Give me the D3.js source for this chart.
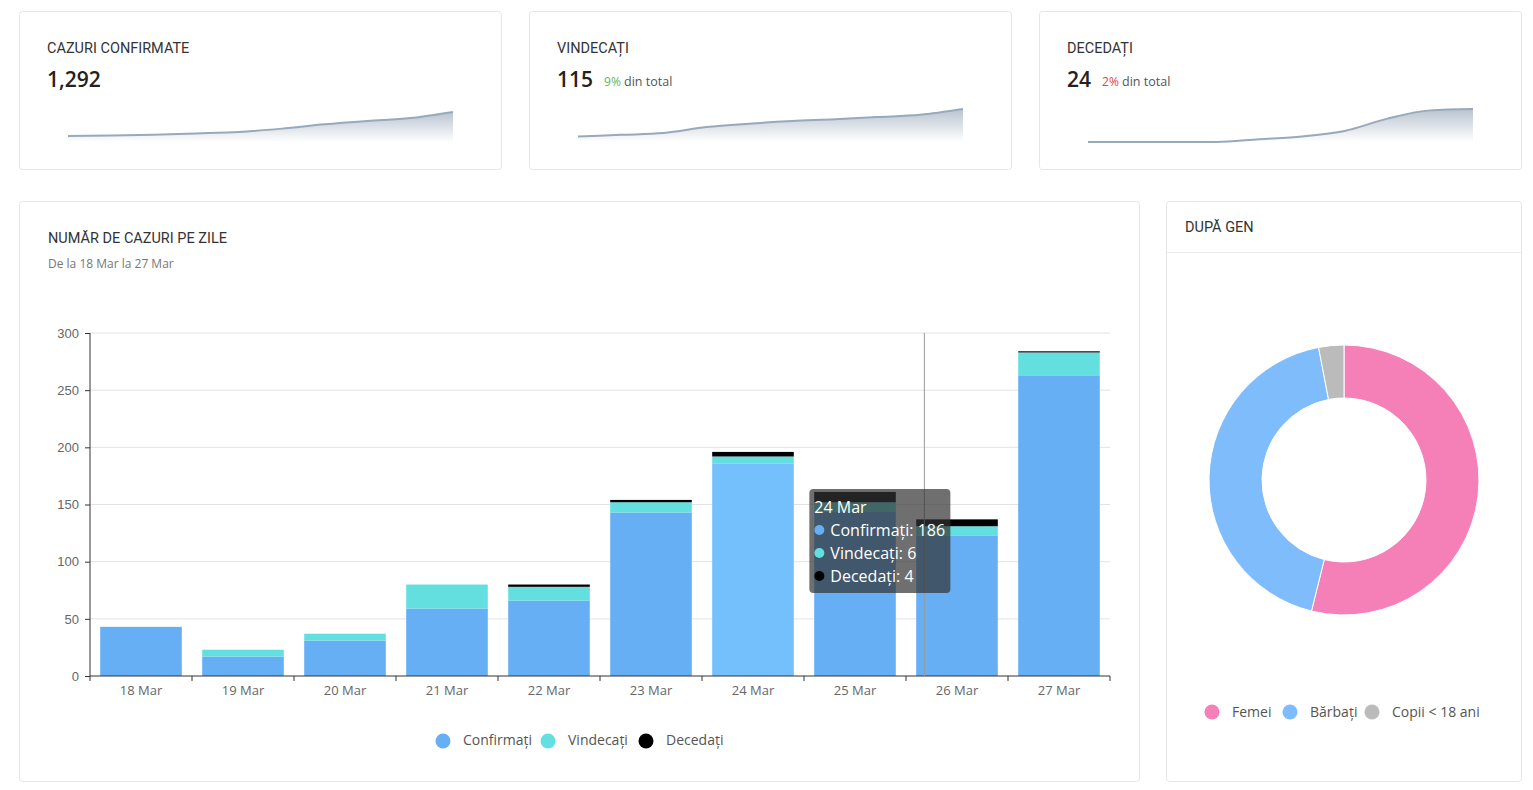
<!DOCTYPE html>
<html lang="ro">
<head>
    <meta charset="UTF-8">
    <title>COVID-19 Romania - Dashboard</title>
    <script src="https://d3js.org/d3.v7.min.js"></script>
    <style>
        body {
            margin: 0;
            background: #fff;
            font-family: "Open Sans", "Noto Sans", sans-serif;
        }
        .card {
            fill: #fff;
            stroke: #e6e6e6;
            stroke-width: 1px;
        }
        .heading {
            font-family: Roboto, "Noto Sans", sans-serif;
            font-size: 14.5px;
            fill: #333;
        }
        .axis text {
            font-size: 13px;
            fill: #666;
        }
        .axis path, .axis line {
            stroke: #333;
        }
        .grid line {
            stroke: #e3e3e3;
        }
        .legend text {
            font-size: 14px;
            fill: #555;
        }
        .tooltip text {
            font-size: 16px;
            fill: #fff;
        }
    </style>
</head>
<body>
    <svg id="dash" width="1533" height="790"></svg>
    <script>
        // date zilnice
        const days = ['18 Mar', '19 Mar', '20 Mar', '21 Mar', '22 Mar', '23 Mar', '24 Mar', '25 Mar', '26 Mar', '27 Mar'];
        const confirmati = [43, 17, 31, 59, 66, 143, 186, 144, 123, 263];
        const vindecati = [0, 6, 6, 21, 12, 9, 6, 8, 8, 20];
        const decedati = [0, 0, 0, 0, 2, 2, 4, 9, 6, 1];

        // totaluri cumulate pentru sparkline
        const totalConfirmati = [260, 277, 308, 367, 433, 576, 762, 906, 1029, 1292];
        const totalVindecati = [19, 25, 31, 52, 64, 73, 79, 87, 95, 115];
        const totalDecedati = [0, 0, 0, 0, 2, 4, 8, 17, 23, 24];

        const cardTitles = ['CAZURI CONFIRMATE', 'VINDECAȚI', 'DECEDAȚI'];
        const cardValues = [1292, 115, 24];
        const cardPercent = [null, '9%', '2%'];

        const seriesNames = ['Confirmați', 'Vindecați', 'Decedaţi'];
        const yTicks = [0, 50, 100, 150, 200, 250, 300];

        const genLabels = ['Femei', 'Bărbați', 'Copii < 18 ani'];
        const genValues = [696, 557, 39];

        const hoverDay = '24 Mar';

        const svg = d3.select('#dash');

        // ---- carduri sus ----
        const sparkSeries = [totalConfirmati, totalVindecati, totalDecedati];
        const sparkTop = [101, 98, 98];
        const pctColors = [null, '#5cb85c', '#e0443e'];
        const defs = svg.append('defs');
        const grad = defs.append('linearGradient')
            .attr('id', 'sparkFill')
            .attr('x1', 0).attr('y1', 0).attr('x2', 0).attr('y2', 1);
        grad.append('stop').attr('offset', '0%').attr('stop-color', '#b9c4d0').attr('stop-opacity', 1);
        grad.append('stop').attr('offset', '100%').attr('stop-color', '#ffffff').attr('stop-opacity', 1);

        cardTitles.forEach((title, i) => {
            const cx = 19 + i * 510;
            const g = svg.append('g').attr('transform', `translate(${cx},11)`);
            g.append('rect').attr('class', 'card')
                .attr('x', 0.5).attr('y', 0.5).attr('width', 482).attr('height', 158).attr('rx', 3);
            g.append('text').attr('class', 'heading')
                .attr('x', 28).attr('y', 42).text(title);
            const val = g.append('text')
                .attr('x', 28).attr('y', 76)
                .style('font-size', '21px').style('font-weight', 600).style('fill', '#222')
                .text(d3.format(',')(cardValues[i]));
            if (cardPercent[i]) {
                const w = val.node().getComputedTextLength();
                const t = g.append('text').attr('x', 28 + w + 11).attr('y', 75)
                    .style('font-size', '12px');
                t.append('tspan').style('fill', pctColors[i]).text(cardPercent[i]);
                t.append('tspan').style('fill', '#555').style('font-size', '12.5px').text(' din total');
            }

            const data = sparkSeries[i];
            const sx = d3.scaleLinear().domain([0, data.length - 1]).range([49, 434]);
            const sy = d3.scaleLinear().domain([0, d3.max(data)]).range([131, sparkTop[i]]);
            const area = d3.area()
                .x((d, k) => sx(k)).y0(131).y1(d => sy(d))
                .curve(d3.curveMonotoneX);
            const line = d3.line()
                .x((d, k) => sx(k)).y(d => sy(d))
                .curve(d3.curveMonotoneX);
            g.append('path').datum(data).attr('d', area).attr('fill', 'url(#sparkFill)');
            g.append('path').datum(data).attr('d', line)
                .attr('fill', 'none').attr('stroke', '#97a9bc').attr('stroke-width', 2);
        });

        // ---- grafic principal ----
        svg.append('rect').attr('class', 'card')
            .attr('x', 19.5).attr('y', 201.5).attr('width', 1120).attr('height', 580).attr('rx', 3);
        svg.append('text').attr('class', 'heading')
            .attr('x', 48).attr('y', 243).text('NUMĂR DE CAZURI PE ZILE');
        svg.append('text')
            .attr('x', 48).attr('y', 268)
            .style('font-size', '12px').style('fill', '#777')
            .text('De la 18 Mar la 27 Mar');

        const x = d3.scaleBand().domain(days).range([90, 1110]).paddingInner(0.2).paddingOuter(0.1);
        const xb = d3.scaleBand().domain(days).range([90, 1110]);
        const y = d3.scaleLinear().domain([0, 300]).range([676, 333]);

        svg.append('g').attr('class', 'grid')
            .selectAll('line')
            .data(yTicks.slice(1))
            .join('line')
            .attr('x1', 90).attr('x2', 1110)
            .attr('y1', d => y(d)).attr('y2', d => y(d));

        const stackData = days.map((d, i) => ({
            day: d,
            c: confirmati[i],
            v: vindecati[i],
            m: decedati[i]
        }));
        const stack = d3.stack().keys(['c', 'v', 'm'])(stackData);
        const colors = { c: '#67aff5', v: '#64dfe0', m: '#000000' };

        svg.append('g')
            .selectAll('g')
            .data(stack)
            .join('g')
            .attr('fill', s => colors[s.key])
            .selectAll('rect')
            .data(s => s.map(p => ({ key: s.key, p })))
            .join('rect')
            .attr('x', d => x(d.p.data.day))
            .attr('width', x.bandwidth())
            .attr('y', d => y(d.p[1]))
            .attr('height', d => y(d.p[0]) - y(d.p[1]))
            .attr('fill', d => (d.key === 'c' && d.p.data.day === hoverDay) ? '#74c0fc' : null);

        // axe
        svg.append('g').attr('class', 'axis')
            .attr('transform', 'translate(90,0)')
            .call(d3.axisLeft(y).tickValues(yTicks).tickSize(5).tickPadding(6))
            .call(g => g.select('.domain').attr('d', 'M0,333V676'));

        const xAxis = svg.append('g').attr('class', 'axis')
            .attr('transform', 'translate(0,676)');
        xAxis.append('line').attr('x1', 90).attr('x2', 1110).attr('stroke', '#333');
        xAxis.selectAll('.tk')
            .data(days.concat(['end']))
            .join('line')
            .attr('x1', (d, i) => 90 + i * xb.bandwidth())
            .attr('x2', (d, i) => 90 + i * xb.bandwidth())
            .attr('y1', 0).attr('y2', 5);
        xAxis.selectAll('text')
            .data(days)
            .join('text')
            .attr('x', d => xb(d) + xb.bandwidth() / 2)
            .attr('y', 19)
            .attr('text-anchor', 'middle')
            .text(d => d);

        // linie cursor
        const pointerX = xb('26 Mar') + xb.bandwidth() * 0.18;
        svg.append('line')
            .attr('x1', pointerX).attr('x2', pointerX)
            .attr('y1', y(300)).attr('y2', y(0))
            .attr('stroke', '#999').attr('stroke-width', 1);

        // legenda
        const legend = svg.append('g').attr('class', 'legend');
        const legX = [443, 548, 646];
        seriesNames.forEach((n, i) => {
            legend.append('circle').attr('cx', legX[i]).attr('cy', 741).attr('r', 7.5)
                .attr('fill', Object.values(colors)[i]);
            legend.append('text').attr('x', legX[i] + 20).attr('y', 745).text(n);
        });

        // tooltip
        const hi = days.indexOf(hoverDay);
        const tip = svg.append('g').attr('class', 'tooltip')
            .attr('transform', `translate(${pointerX - 115},489)`);
        tip.append('rect').attr('width', 141).attr('height', 104).attr('rx', 4)
            .attr('fill', 'rgba(50,50,50,0.7)');
        tip.append('text').attr('x', 5).attr('y', 24).text(hoverDay);
        [confirmati, vindecati, decedati].forEach((arr, i) => {
            tip.append('circle').attr('cx', 10).attr('cy', 41 + i * 23).attr('r', 5)
                .attr('fill', Object.values(colors)[i]);
            tip.append('text').attr('x', 21).attr('y', 47 + i * 23)
                .text(`${seriesNames[i]}: ${arr[hi]}`);
        });

        // ---- dupa gen ----
        svg.append('rect').attr('class', 'card')
            .attr('x', 1166.5).attr('y', 201.5).attr('width', 355).attr('height', 580).attr('rx', 3);
        svg.append('line').attr('x1', 1167).attr('x2', 1521).attr('y1', 252.5).attr('y2', 252.5)
            .attr('stroke', '#ebebeb');
        svg.append('text').attr('class', 'heading')
            .attr('x', 1185).attr('y', 232).text('DUPĂ GEN');

        const genColors = ['#f57fb7', '#7fbcfb', '#bbbbbb'];
        const pie = d3.pie().sort(null)(genValues);
        const arc = d3.arc().innerRadius(82).outerRadius(135);
        svg.append('g').attr('transform', 'translate(1344,480)')
            .selectAll('path')
            .data(pie)
            .join('path')
            .attr('d', arc)
            .attr('fill', (d, i) => genColors[i])
            .attr('stroke', '#fff').attr('stroke-width', 1);

        const gl = svg.append('g').attr('class', 'legend');
        const glX = [1212, 1290, 1372];
        genLabels.forEach((n, i) => {
            gl.append('circle').attr('cx', glX[i]).attr('cy', 712).attr('r', 7.5).attr('fill', genColors[i]);
            gl.append('text').attr('x', glX[i] + 20).attr('y', 717).text(n);
        });
    </script>
</body>
</html>
